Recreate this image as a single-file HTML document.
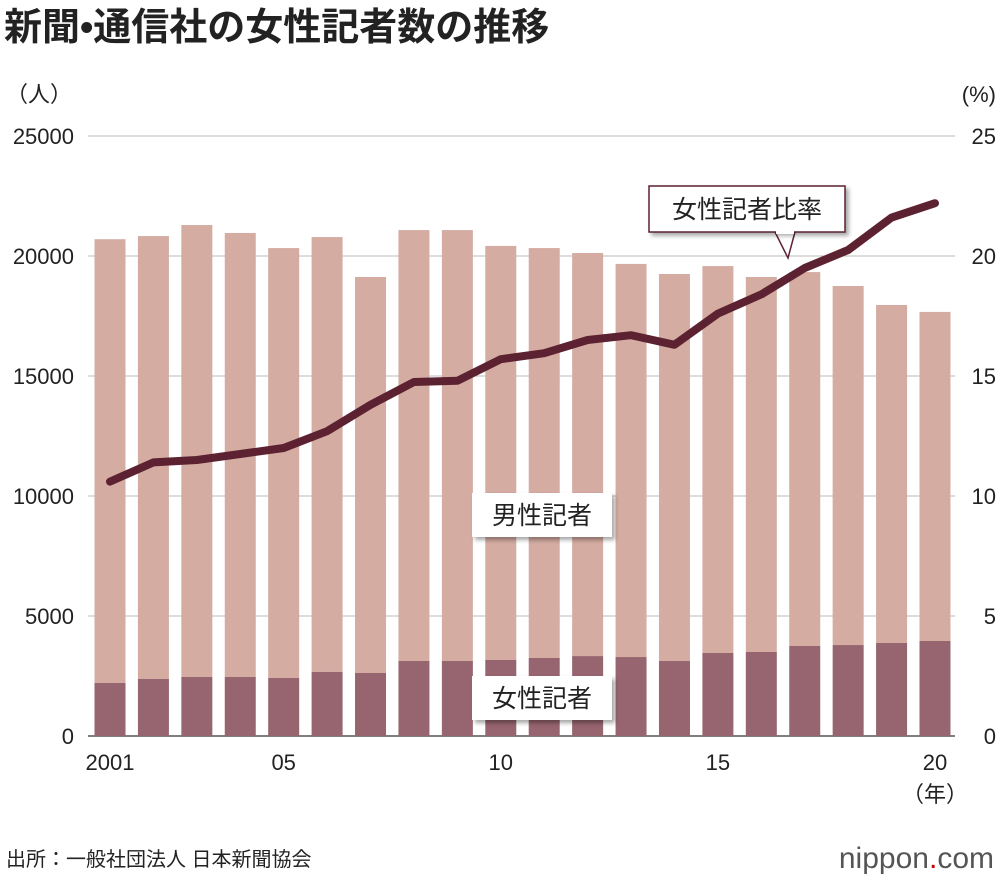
<!DOCTYPE html>
<html><head><meta charset="utf-8">
<style>
body{margin:0;background:#fff;width:1000px;height:880px;overflow:hidden;font-family:"Liberation Sans","Noto Sans CJK JP",sans-serif;}
svg text{font-family:"Liberation Sans","Noto Sans CJK JP",sans-serif;}
</style></head><body>
<svg id="chart" width="1000" height="880">
<text x="4" y="40" font-size="38" font-weight="bold" fill="#222">新聞•通信社の女性記者数の推移</text>
<text x="6" y="102" font-size="22" fill="#222">（人）</text>
<text x="996" y="102" font-size="22" fill="#222" text-anchor="end">(%)</text>
<g id="grid"></g><g id="bars"></g><g id="line"></g><g id="axes"></g>
<text x="6" y="866" font-size="20" fill="#222">出所：一般社団法人 日本新聞協会</text>
<text x="994" y="868" font-size="30" fill="#555" text-anchor="end">nippon<tspan fill="#c00">.</tspan>com</text>
</svg>
<script>
const years=[2001,2002,2003,2004,2005,2006,2007,2008,2009,2010,2011,2012,2013,2014,2015,2016,2017,2018,2019,2020];
const totalJournalists=[20700,20830,21290,20960,20330,20790,19125,21080,21080,20420,20330,20125,19670,19250,19580,19125,19330,18750,17960,17670];
const femaleJournalists=[2210,2375,2460,2460,2420,2670,2625,3125,3125,3170,3250,3330,3290,3125,3460,3500,3750,3790,3875,3960];
const femaleRatio=[10.6,11.4,11.5,11.75,12.0,12.7,13.8,14.75,14.8,15.7,15.95,16.5,16.7,16.3,17.6,18.4,19.5,20.25,21.6,22.2];
const leftTicks=[0,5000,10000,15000,20000,25000];
const rightTicks=[0,5,10,15,20,25];
const xTickLabels={2001:"2001",2005:"05",2010:"10",2015:"15",2020:"20"};
const NS="http://www.w3.org/2000/svg";
const yL=v=>736-v/25000*600, yR=v=>736-v/25*600;
const x=i=>110+i*(825/19);
function mk(tag,attrs,parent,txt){const e=document.createElementNS(NS,tag);for(const k in attrs)e.setAttribute(k,attrs[k]);if(txt!==undefined)e.textContent=txt;document.getElementById(parent).appendChild(e);return e;}
leftTicks.forEach((t,i)=>{
 let g=mk('line',{x1:88,x2:955,y1:yL(t),y2:yL(t),stroke:i==0?'#555':'#bbb','stroke-width':i==0?1.5:1},'grid');
 
 
 let l=mk('text',{x:74,y:yL(t)+8,'font-size':22,'text-anchor':'end',fill:'#222'},'axes',String(t));
 
 
});
rightTicks.forEach(t=>{
 let l=mk('text',{x:996,y:yR(t)+8,'font-size':22,'text-anchor':'end',fill:'#222'},'axes',String(t));
 
 
});
years.forEach((yr,i)=>{
 let b=mk('rect',{x:x(i)-15.5,y:yL(totalJournalists[i]),width:31,height:yL(femaleJournalists[i])-yL(totalJournalists[i]),fill:'#d4aca2'},'bars');
 
 
 let f=mk('rect',{x:x(i)-15.5,y:yL(femaleJournalists[i]),width:31,height:736-yL(femaleJournalists[i]),fill:'#976570'},'bars');
 
 
 if(xTickLabels[yr]){let l=mk('text',{x:x(i),y:770,'font-size':22,'text-anchor':'middle',fill:'#222'},'axes',xTickLabels[yr]);
 
 }
});
let yl=mk('text',{x:935,y:802,'font-size':22,'text-anchor':'middle',fill:'#222'},'axes','（年）');


let pts=femaleRatio.map((v,i)=>x(i)+','+yR(v)).join(' ');
let pl=mk('polyline',{points:pts,fill:'none',stroke:'#5c2231','stroke-width':8,'stroke-linejoin':'round','stroke-linecap':'round'},'line');


function box(bx,by,w,h,txt,name,pointer){
 if(pointer){let p=mk('polygon',{points:`${bx+w-70},${by+h} ${bx+w-50},${by+h} ${bx+w-57},${by+h+26}`,fill:'#fff',stroke:'#5c2231','stroke-width':1.5},'axes');
 
 }
 let r=mk('rect',{x:bx,y:by,width:w,height:h,fill:'#fff',stroke:pointer?'#5c2231':'none','stroke-width':1.5,style:'filter:drop-shadow(3px 3px 2px rgba(0,0,0,0.35))'},'axes');
 
 
 if(pointer){mk('rect',{x:bx+w-69,y:by+h-2,width:18,height:4,fill:'#fff'},'axes');}
 let t=mk('text',{x:bx+w/2,y:by+h/2+9,'font-size':25,'text-anchor':'middle',fill:'#222'},'axes',txt);
 
 
}
box(649,186,196,46,'女性記者比率','ratio-label',true);
box(472,493,140,44,'男性記者','male-label',false);
box(472,676,140,44,'女性記者','female-label',false);
</script>
</body></html>
